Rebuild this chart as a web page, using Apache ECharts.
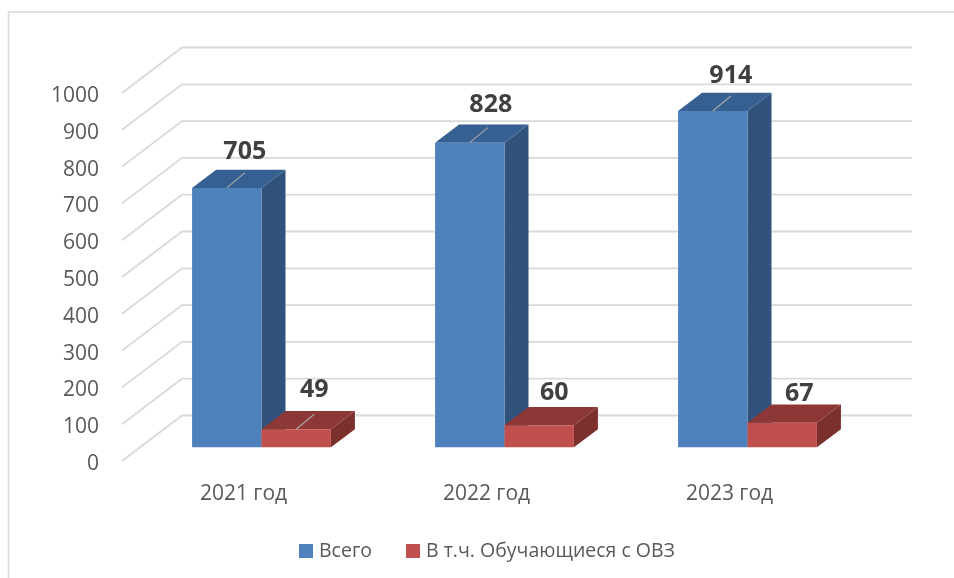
<!DOCTYPE html>
<html>
<head>
<meta charset="utf-8">
<title>Chart</title>
<script src="https://cdn.jsdelivr.net/npm/echarts@6/dist/echarts.min.js"></script>
<style>
  html, body { margin: 0; padding: 0; background: #fff; }
  #chart { width: 954px; height: 578px; }
</style>
</head>
<body>
<div id="chart"></div>
<script>
const categories = ['2021 год', '2022 год', '2023 год'];
const totalValues = [705, 828, 914];
const ovzValues = [49, 60, 67];
const tickValues = [0, 100, 200, 300, 400, 500, 600, 700, 800, 900, 1000];

// depth of the fake 3d floor, px
const depthX = 60;
const depthY = 45.5;
// the bars stand between these parts of the floor depth
const barFront = 0.3;
const barBack = 0.7;

const fontName = '"Open Sans", sans-serif';

// label shift from the front top edge of a bar, by series and category
const labelShift = {
  total: [[18, -36], [21, -38], [18, -35]],
  ovz: [[18, -39], [15, -32], [17, -29]]
};
// excel draws leader lines only where the label was moved far enough
const leaderShown = {
  total: [true, true, true],
  ovz: [true, false, false]
};

function renderWall(params, api) {
  const p = api.coord([0, api.value(1)]);
  const rect = params.coordSys;
  const x0 = rect.x;
  const x1 = rect.x + rect.width + 1;
  return {
    type: 'polyline',
    silent: true,
    shape: { points: [[x0, p[1]], [x0 + depthX, p[1] - depthY], [x1 + depthX, p[1] - depthY]] },
    style: { fill: null, stroke: '#d9d9d9', lineWidth: 1.8 }
  };
}

function makeBarRender(side, colors, key) {
  return function (params, api) {
    const idx = api.value(0);
    const val = api.value(1);
    const catW = api.size([1, 0])[0];
    const w = catW / 3.5;
    const base = api.coord([idx, 0]);
    const top = api.coord([idx, val]);
    const cx = base[0] + depthX * barFront;
    const x0 = side === 0 ? cx - w : cx;
    const x1 = x0 + w;
    const yb = base[1] - depthY * barFront;
    const yt = top[1] - depthY * barFront;
    const dx = depthX * (barBack - barFront);
    const dy = depthY * (barBack - barFront);
    const shift = labelShift[key][idx];
    const children = [
      { type: 'polygon', shape: { points: [[x1, yt], [x1 + dx, yt - dy], [x1 + dx, yb - dy], [x1, yb]] }, style: { fill: colors.side } },
      { type: 'polygon', shape: { points: [[x0, yt], [x0 + dx, yt - dy], [x1 + dx, yt - dy], [x1, yt]] }, style: { fill: colors.top } },
      { type: 'rect', shape: { x: x0, y: yt, width: w, height: yb - yt }, style: { fill: colors.front } }
    ];
    if (leaderShown[key][idx]) {
      const mx = (x0 + x1) / 2;
      children.push({
        type: 'line',
        shape: { x1: mx, y1: yt, x2: mx + 18, y2: yt - 15 },
        style: { stroke: '#a6a6a6', lineWidth: 1.2 }
      });
    }
    children.push({
      type: 'text',
      style: {
        x: (x0 + x1) / 2 + shift[0],
        y: yt + shift[1],
        text: String(val),
        fill: '#404040',
        font: 'bold 25px ' + fontName,
        align: 'center',
        verticalAlign: 'middle'
      }
    });
    return { type: 'group', children: children };
  };
}

const chart = echarts.init(document.getElementById('chart'), null, { renderer: 'canvas' });
chart.setOption({
  animation: false,
  backgroundColor: '#fff',
  textStyle: { fontFamily: fontName },
  graphic: [{
    type: 'polyline',
    silent: true,
    shape: { points: [[8.5, 578], [8.5, 12], [954, 12]] },
    style: { fill: null, stroke: '#d9d9d9', lineWidth: 1.6 }
  }],
  legend: {
    data: ['Всего', 'В т.ч. Обучающиеся с ОВЗ'],
    left: 294,
    top: 536,
    icon: 'rect',
    itemWidth: 14,
    itemHeight: 14,
    itemGap: 34,
    textStyle: { color: '#595959', fontSize: 19.5, fontFamily: fontName, padding: [0, 0, 2, 1] }
  },
  grid: { left: 122, right: 103, top: 93, bottom: 117 },
  xAxis: {
    type: 'category',
    data: categories,
    axisLine: { show: false },
    axisTick: { show: false },
    axisLabel: { color: '#595959', fontSize: 21, margin: 23, fontFamily: fontName }
  },
  yAxis: {
    type: 'value',
    min: 0,
    max: 1000,
    interval: 100,
    axisLine: { show: false },
    axisTick: { show: false },
    splitLine: { show: false },
    // top anchored with a short line box, puts the digits a bit under the tick like the original
    axisLabel: { color: '#595959', fontSize: 21, margin: 23, verticalAlign: 'top', lineHeight: 6, fontFamily: fontName, formatter: v => String(v) }
  },
  series: [
    {
      name: 'wall',
      type: 'custom',
      z: 1,
      clip: false,
      silent: true,
      renderItem: renderWall,
      encode: { x: 0, y: 1 },
      data: tickValues.map(v => [0, v])
    },
    {
      name: 'Всего',
      type: 'custom',
      z: 2,
      clip: false,
      itemStyle: { color: '#4f81bd' },
      renderItem: makeBarRender(0, { front: '#4f81bd', top: '#376092', side: '#31527b' }, 'total'),
      encode: { x: 0, y: 1 },
      data: totalValues.map((v, i) => [i, v])
    },
    {
      name: 'В т.ч. Обучающиеся с ОВЗ',
      type: 'custom',
      z: 3,
      clip: false,
      itemStyle: { color: '#c0504d' },
      renderItem: makeBarRender(1, { front: '#c0504d', top: '#8d3836', side: '#7c302e' }, 'ovz'),
      encode: { x: 0, y: 1 },
      data: ovzValues.map((v, i) => [i, v])
    }
  ]
});
</script>
</body>
</html>
